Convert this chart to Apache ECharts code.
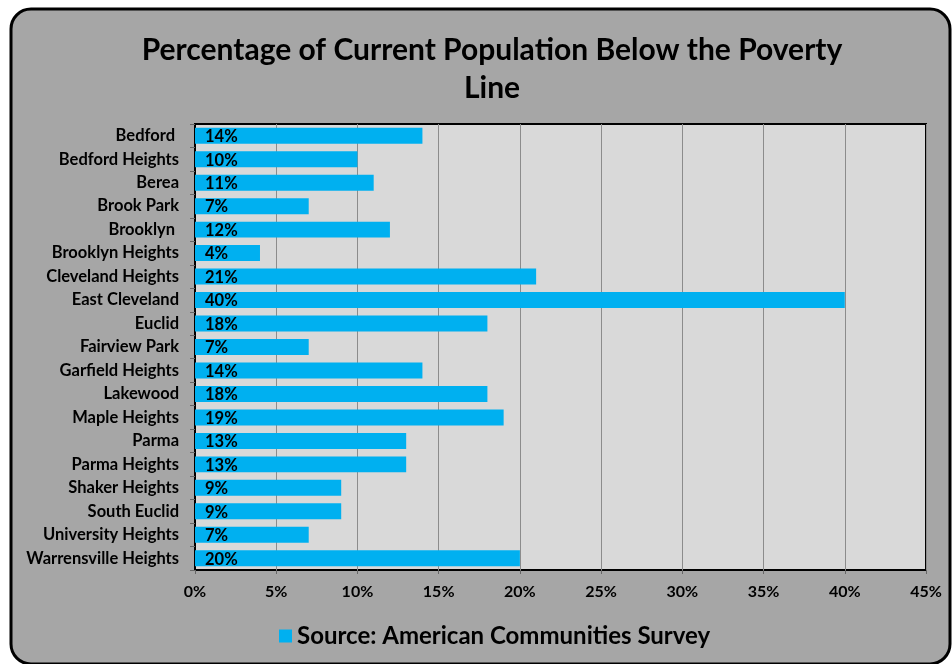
<!DOCTYPE html>
<html><head><meta charset="utf-8">
<script src="https://cdn.jsdelivr.net/npm/echarts@6/dist/echarts.min.js"></script>
<style>html,body{margin:0;padding:0;background:#fff}#c{width:952px;height:664px}</style>
</head><body><div id="c"></div>
<script>
const categories = ["Bedford ","Bedford Heights","Berea","Brook Park","Brooklyn ","Brooklyn Heights","Cleveland Heights","East Cleveland","Euclid","Fairview Park","Garfield Heights","Lakewood","Maple Heights","Parma","Parma Heights","Shaker Heights","South Euclid","University Heights","Warrensville Heights"];
const values = [14,10,11,7,12,4,21,40,18,7,14,18,19,13,13,9,9,7,20];
const xTicks = [0,5,10,15,20,25,30,35,40,45];
const titleText = "Percentage of Current Population Below the Poverty\nLine";
const legendText = "Source: American Communities Survey";
const FONT = "Lato";
const chart = echarts.init(document.getElementById('c'));
chart.setOption({
  animation:false,
  backgroundColor:'#ffffff',
  graphic:[{type:'rect',z:-10,shape:{x:11,y:9,width:939,height:655,r:20},style:{fill:'#a6a6a6',stroke:'#000',lineWidth:3}}],
  title:{text:titleText,left:487,textAlign:'center',top:26,textStyle:{fontFamily:FONT,fontWeight:'bold',fontSize:30,lineHeight:38,color:'#000'}},
  legend:{data:[legendText],bottom:11,left:274,itemWidth:13,itemHeight:13,itemGap:6,icon:'rect',textStyle:{fontFamily:FONT,fontWeight:'bold',fontSize:24,color:'#000'}},
  grid:{left:195,right:26,top:124,bottom:94,show:true,backgroundColor:'#d9d9d9',borderColor:'#000',borderWidth:2},
  xAxis:{type:'value',min:xTicks[0],max:xTicks[xTicks.length-1],interval:5,
    axisLine:{show:false},axisTick:{show:true,length:4,lineStyle:{color:'#666'}},
    splitLine:{show:true,lineStyle:{color:'#8c8c8c',width:1}},
    axisLabel:{formatter:v=>v+'%',fontFamily:FONT,fontWeight:'bold',fontSize:16,color:'#000',margin:14}},
  yAxis:{type:'category',data:categories,inverse:true,
    axisLine:{show:true,lineStyle:{color:'#000',width:2}},
    axisTick:{show:true,length:5,lineStyle:{color:'#666'}},
    axisLabel:{fontFamily:FONT,fontWeight:'bold',fontSize:16.5,color:'#000',margin:16}},
  series:[{name:legendText,type:'bar',data:values,barCategoryGap:'32%',
    itemStyle:{color:'#00b0f0'},
    label:{show:true,position:'insideLeft',offset:[5,1],formatter:p=>p.value+'%',fontFamily:FONT,fontWeight:'bold',fontSize:16.5,color:'#000'}}]
});
</script></body></html>
